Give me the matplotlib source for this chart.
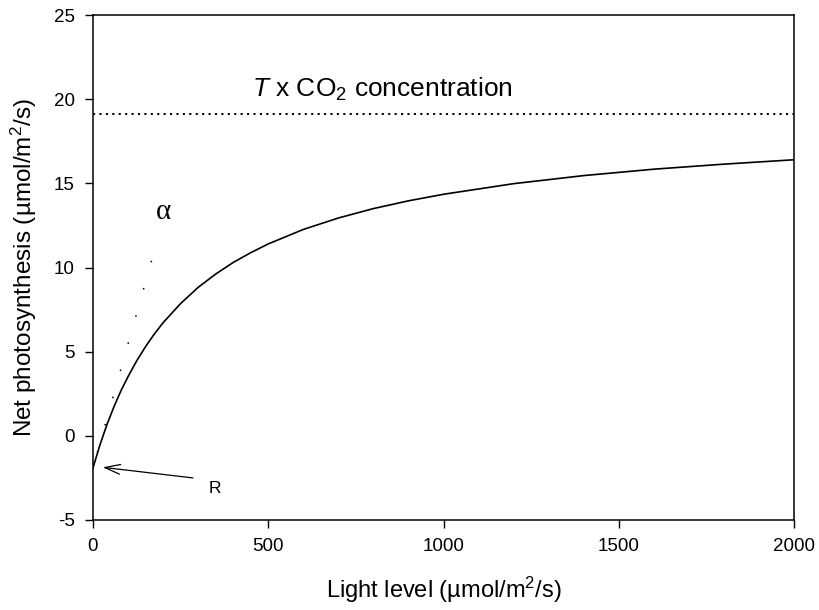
import matplotlib
matplotlib.use("Agg")
import matplotlib.pyplot as plt

plt.rcParams['font.family'] = ['Liberation Sans', 'DejaVu Sans']
plt.rcParams['mathtext.fontset'] = 'custom'
plt.rcParams['mathtext.rm'] = 'Liberation Sans'
plt.rcParams['mathtext.it'] = 'Liberation Sans:italic'
plt.rcParams['axes.unicode_minus'] = False

# light response curve
light = [0, 20, 40, 60, 80, 100, 125, 150, 175, 200, 250, 300, 350, 400, 450,
         500, 600, 700, 800, 900, 1000, 1200, 1400, 1600, 1800, 2000]
net_ps = [-1.9, -0.53, 0.68, 1.74, 2.69, 3.52, 4.47, 5.30, 6.05, 6.72, 7.86,
          8.82, 9.61, 10.30, 10.88, 11.40, 12.26, 12.94, 13.50, 13.96, 14.35,
          14.98, 15.46, 15.84, 16.14, 16.40]

# initial slope (alpha), drawn from the top end down to the intercept
alpha_x = [167, 0]
alpha_y = [10.4, -1.9]

# ceiling: T x CO2 concentration
ceiling = 19.1
x_range = [0, 2000]

xticks = [0, 500, 1000, 1500, 2000]
yticks = [-5, 0, 5, 10, 15, 20, 25]

fig = plt.figure(figsize=(8.19, 6.10), dpi=100)
ax = fig.add_axes([93/819, 1 - 520/610, 701/819, 505/610])

ax.plot(light, net_ps, color='black', linewidth=1.2)
ax.plot(alpha_x, alpha_y, color='black', linewidth=1.1,
        linestyle=(0, (1, 17.5)), dash_capstyle='butt')
ax.plot(x_range, [ceiling, ceiling], color='black', linewidth=1.4,
        linestyle=(0, (1.1, 2.2)), dash_capstyle='butt')

ax.text(453, 20.15, r'$T$ x CO$_2$ concentration', fontsize=19, ha='left', va='baseline')
ax.text(200, 13.3, 'α', fontsize=21, family=['Liberation Serif', 'DejaVu Serif'],
        ha='center', va='center')
ax.text(348, -3.15, 'R', fontsize=12.5, ha='center', va='center')
ax.annotate('', xy=(28, -1.87), xytext=(285, -2.5),
            arrowprops=dict(arrowstyle='->,head_length=1.1,head_width=0.35',
                            color='black', linewidth=0.9, shrinkA=0, shrinkB=0))

ax.set_xlim(0, 2000)
ax.set_ylim(-5, 25)
ax.set_xticks(xticks)
ax.set_yticks(yticks)
ax.tick_params(direction='out', length=6, width=1, labelsize=13.5, pad=7)
for s in ax.spines.values():
    s.set_linewidth(1.1)

ax.set_xlabel('Light level (µmol/m$^2$/s)', fontsize=17, labelpad=14)
ax.set_ylabel('Net photosynthesis (µmol/m$^2$/s)', fontsize=17.5, labelpad=11)

plt.savefig('out.png', dpi=100)
